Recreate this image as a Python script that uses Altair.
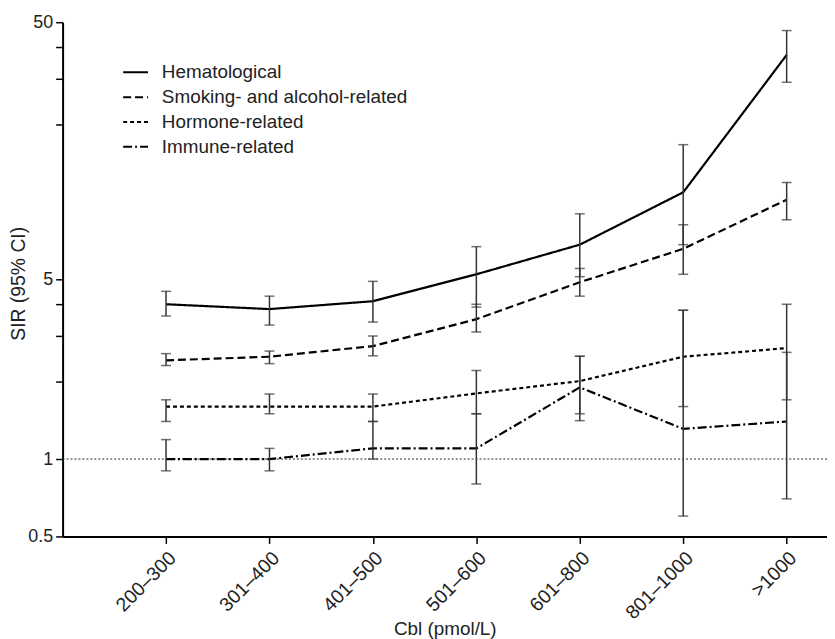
import altair as alt
import pandas as pd

categories = ["200–300", "301–400", "401–500", "501–600", "601–800", "801–1000", ">1000"]
series_names = ["Hematological", "Smoking- and alcohol-related", "Hormone-related", "Immune-related"]

hem_sir = [4.00, 3.83, 4.11, 5.23, 6.82, 10.9, 37.3]
hem_lo = [3.60, 3.32, 3.41, 3.90, 5.12, 6.82, 29.2]
hem_hi = [4.49, 4.30, 4.91, 6.70, 8.99, 16.7, 46.4]

smk_sir = [2.42, 2.50, 2.75, 3.50, 4.87, 6.57, 10.2]
smk_lo = [2.31, 2.35, 2.52, 3.12, 4.30, 5.23, 8.52]
smk_hi = [2.57, 2.63, 3.01, 4.00, 5.51, 8.15, 11.9]

hor_sir = [1.60, 1.60, 1.60, 1.80, 2.01, 2.50, 2.70]
hor_lo = [1.40, 1.50, 1.40, 1.50, 1.50, 1.60, 1.70]
hor_hi = [1.70, 1.79, 1.79, 2.21, 2.51, 3.79, 4.00]

imm_sir = [1.00, 1.00, 1.10, 1.10, 1.90, 1.31, 1.40]
imm_lo = [0.90, 0.90, 1.00, 0.80, 1.41, 0.60, 0.70]
imm_hi = [1.19, 1.10, 1.40, 1.50, 2.51, 3.79, 2.60]

reference_value = [1]

rows = []
for name, sir, lo, hi in zip(series_names,
                             [hem_sir, smk_sir, hor_sir, imm_sir],
                             [hem_lo, smk_lo, hor_lo, imm_lo],
                             [hem_hi, smk_hi, hor_hi, imm_hi]):
    for i, c in enumerate(categories):
        rows.append({"series": name, "idx": i, "cat": c, "sir": sir[i], "lo": lo[i], "hi": hi[i]})
df = pd.DataFrame(rows)
ref_df = pd.DataFrame({"ref": reference_value})

FONT = "Liberation Sans"
label_expr = "[" + ",".join("'" + c + "'" for c in categories) + "][datum.value]"

xscale = alt.Scale(domain=[-1, 6.39], nice=False, zero=False)
xaxis = alt.Axis(values=list(range(len(categories))), labelExpr=label_expr, labelAngle=-45,
                 labelAlign="right", labelBaseline="top", labelPadding=5, labelFontSize=19.5,
                 title="Cbl (pmol/L)", titleY=99, titleBaseline="alphabetic", titleFontSize=19,
                 grid=False, tickSize=7)

yscale = alt.Scale(type="log", domain=[0.5, 50], nice=False)
yaxis = alt.Axis(values=[0.5, 1, 2, 3, 4, 5, 20, 30, 40, 50], format="~g",
                 labelExpr="indexof([0.5, 1, 5, 50], datum.value) >= 0 ? datum.label : ''",
                 title="SIR (95% CI)", titleX=-44, titleY=263, titleBaseline="middle",
                 titleFontSize=19.5, grid=False, tickSize=7, labelPadding=3)

ref_rule = alt.Chart(ref_df).mark_rule(strokeDash=[2, 2], strokeWidth=1, color="#222").encode(
    y=alt.Y("ref:Q", scale=yscale, axis=yaxis)
)

lines = alt.Chart(df).mark_line(color="black", strokeWidth=2.2).encode(
    x=alt.X("idx:Q", scale=xscale, axis=xaxis),
    y=alt.Y("sir:Q", scale=yscale, axis=yaxis),
    strokeDash=alt.StrokeDash(
        "series:N",
        scale=alt.Scale(domain=series_names, range=[[1, 0], [8, 4], [4, 3], [9, 3, 2, 3]]),
        legend=alt.Legend(title=None, orient="none", legendX=60, legendY=37,
                          symbolType="stroke", symbolSize=625, symbolStrokeWidth=2,
                          symbolStrokeColor="black", labelFontSize=19, labelFont=FONT,
                          labelColor="#222", labelOffset=13, rowPadding=1, labelLimit=0),
    ),
)

bars = alt.Chart(df).mark_rule(color="#333", strokeWidth=1.5).encode(
    x=alt.X("idx:Q", scale=xscale, axis=xaxis),
    y=alt.Y("lo:Q", scale=yscale, axis=yaxis),
    y2="hi:Q",
)

caps_lo = alt.Chart(df).mark_tick(orient="horizontal", size=10, thickness=1.5, color="#333").encode(
    x=alt.X("idx:Q", scale=xscale, axis=xaxis),
    y=alt.Y("lo:Q", scale=yscale, axis=yaxis),
)
caps_hi = alt.Chart(df).mark_tick(orient="horizontal", size=10, thickness=1.5, color="#333").encode(
    x=alt.X("idx:Q", scale=xscale, axis=xaxis),
    y=alt.Y("hi:Q", scale=yscale, axis=yaxis),
)

chart = alt.layer(ref_rule, lines, bars, caps_lo, caps_hi).properties(
    width=770, height=518,
    autosize=alt.AutoSizeParams(type="none"),
    padding={"left": 55, "top": 12, "right": 0, "bottom": 101},
).configure_view(stroke=None).configure_axis(
    domainColor="black", domainWidth=2, tickColor="black", tickWidth=1.5,
    labelFontSize=18, titleFontSize=18, labelFont=FONT, titleFont=FONT,
    labelColor="#222", titleColor="#222", titleFontWeight="normal",
)

chart.save("out.html", embed_options={"renderer": "svg", "actions": False})
